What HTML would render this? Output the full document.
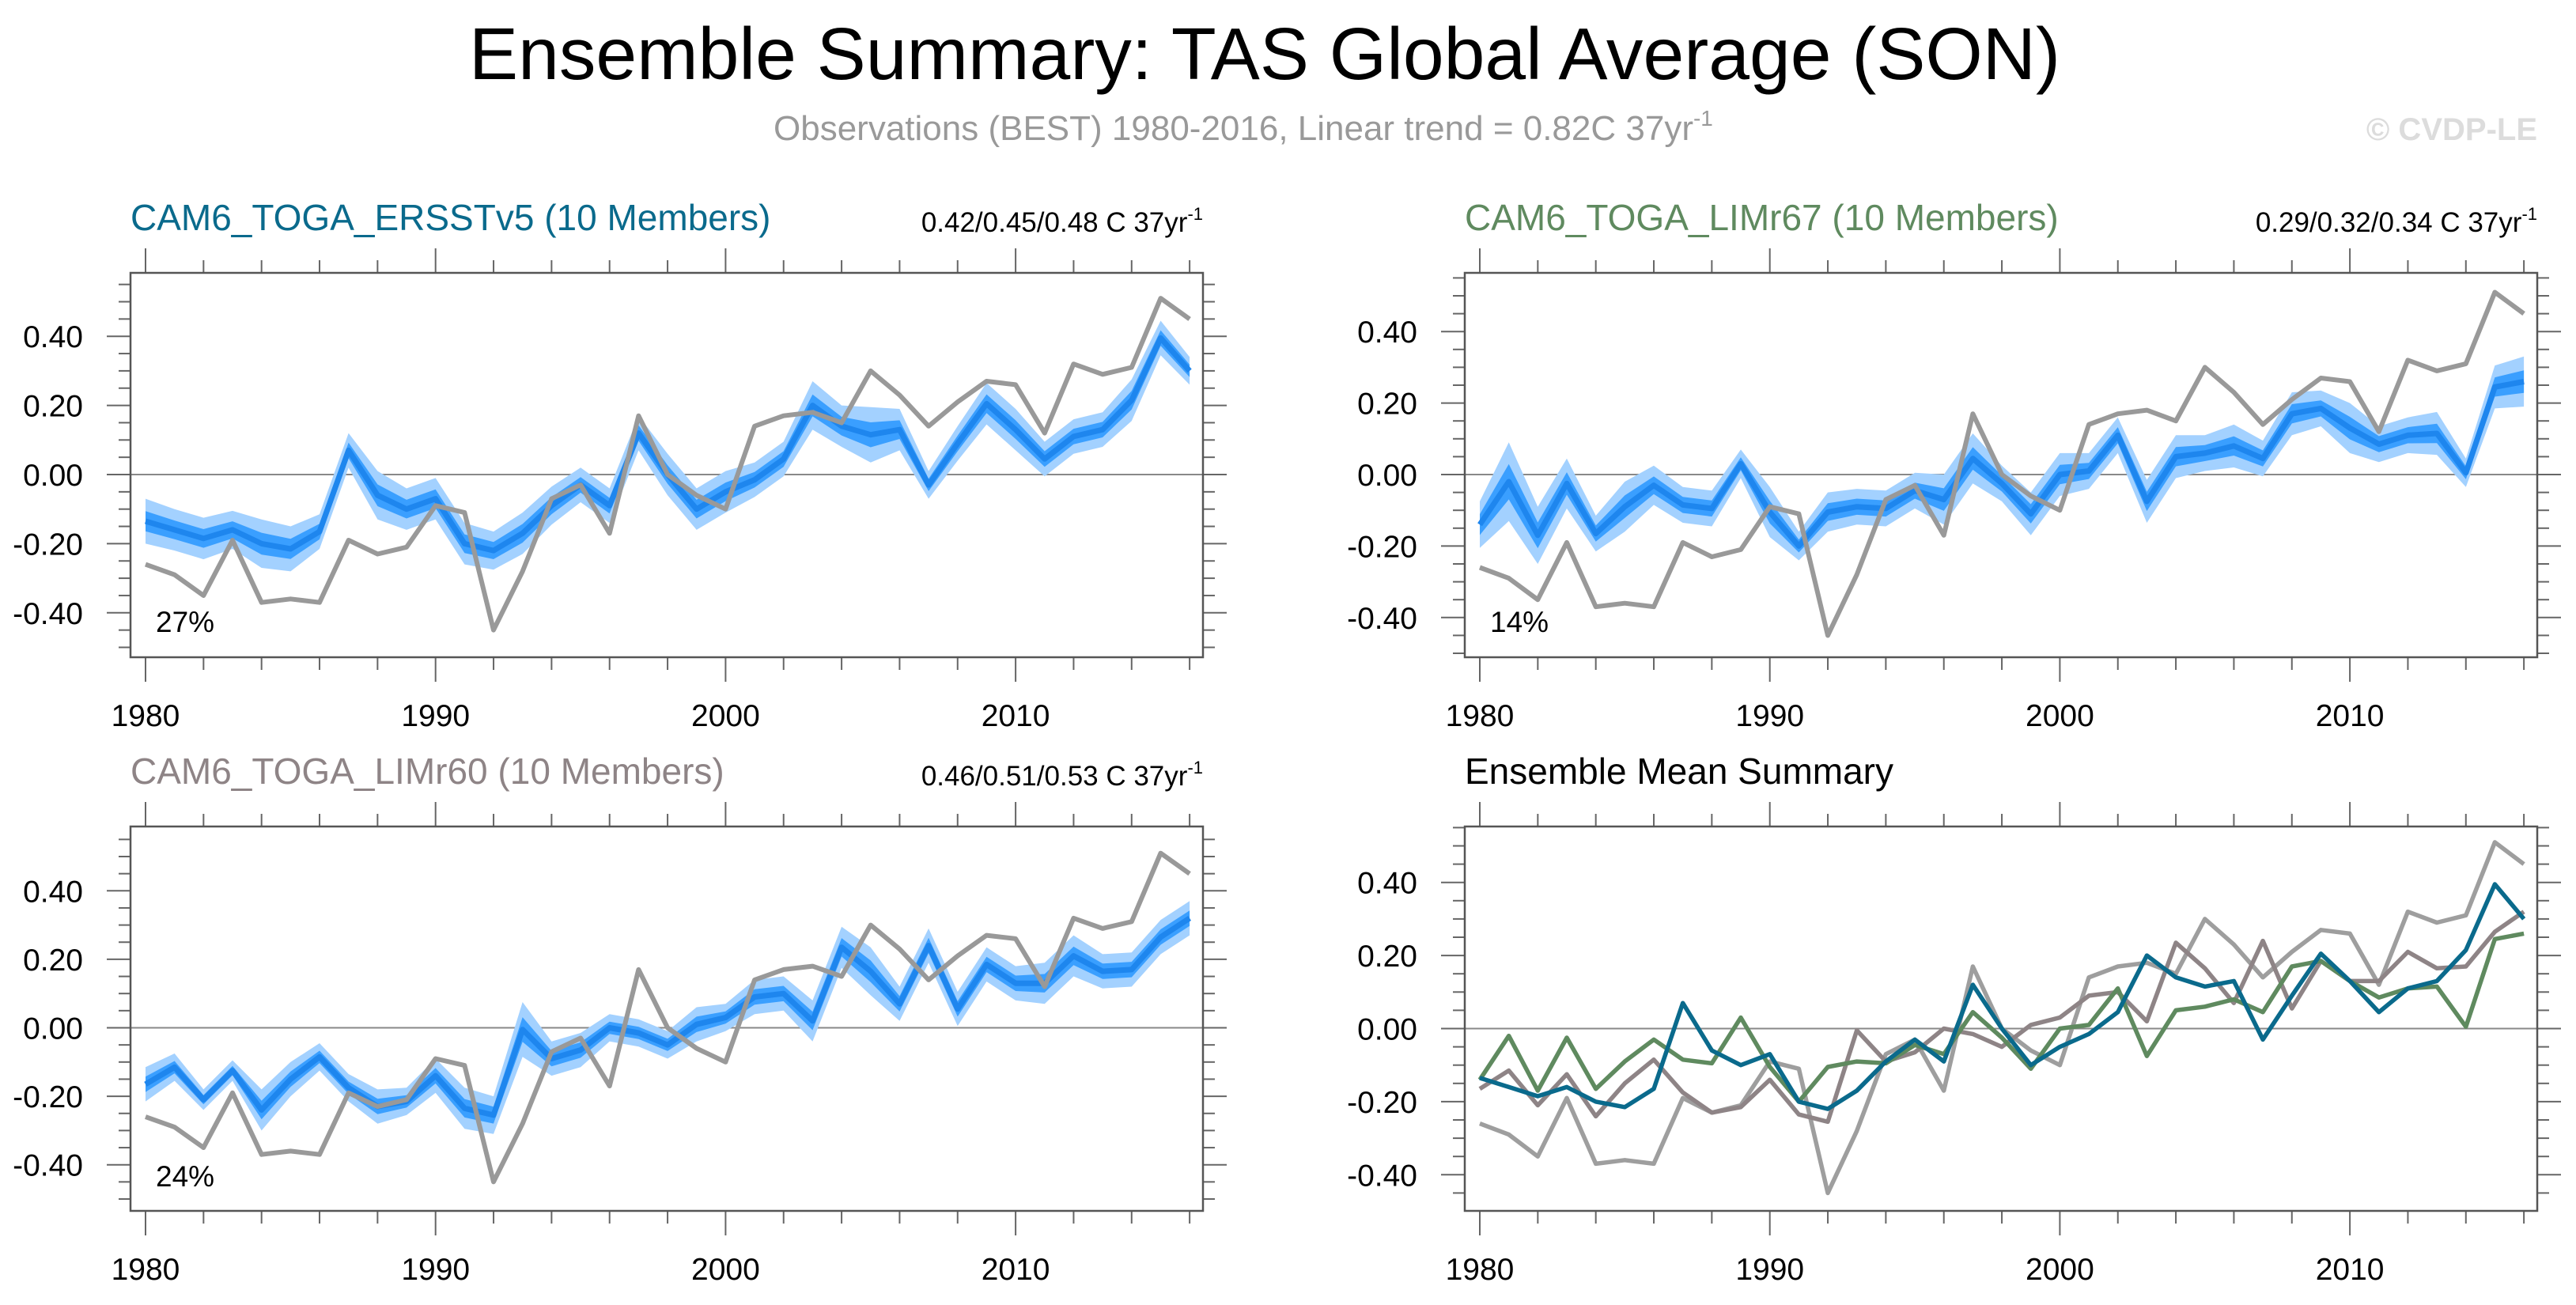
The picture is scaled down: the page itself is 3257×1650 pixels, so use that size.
<!DOCTYPE html>
<html><head><meta charset="utf-8">
<style>
html,body{margin:0;padding:0;background:#fff;}
svg{display:block;font-family:"Liberation Sans",Arial,sans-serif;}
</style></head>
<body>
<svg id="chart" width="3257" height="1650" viewBox="0 0 3257 1650" xmlns="http://www.w3.org/2000/svg">
  <text x="593" y="100" font-size="93" textLength="2012" lengthAdjust="spacingAndGlyphs" fill="#000">Ensemble Summary: TAS Global Average (SON)</text>
  <text x="978" y="177" font-size="44" fill="#999">Observations (BEST) 1980-2016, Linear trend = 0.82C 37yr<tspan font-size="28" dy="-18">-1</tspan></text>
  <text x="3208" y="177" font-size="40" font-weight="bold" fill="#dcdcdc" text-anchor="end">© CVDP-LE</text>
  <g id="panels"></g>
</svg>
<script>
const years = [];
for (let y = 1980; y <= 2016; y++) years.push(y);
const obsBEST = [-0.26,-0.29,-0.35,-0.19,-0.37,-0.36,-0.37,-0.19,-0.23,-0.21,-0.09,-0.11,-0.45,-0.28,-0.07,-0.03,-0.17,0.17,0.00,-0.06,-0.10,0.14,0.17,0.18,0.15,0.30,0.23,0.14,0.21,0.27,0.26,0.12,0.32,0.29,0.31,0.51,0.45];
const meanERSST = [-0.135,-0.16,-0.185,-0.16,-0.20,-0.215,-0.165,0.07,-0.06,-0.10,-0.07,-0.20,-0.22,-0.17,-0.09,-0.03,-0.09,0.12,0.00,-0.10,-0.05,-0.015,0.045,0.20,0.14,0.115,0.13,-0.03,0.09,0.205,0.13,0.045,0.11,0.13,0.215,0.395,0.30];
const meanLIMr67 = [-0.14,-0.02,-0.17,-0.025,-0.165,-0.09,-0.03,-0.085,-0.095,0.03,-0.105,-0.20,-0.105,-0.09,-0.095,-0.045,-0.07,0.045,-0.025,-0.11,0.00,0.01,0.11,-0.075,0.05,0.06,0.08,0.045,0.17,0.185,0.13,0.085,0.11,0.115,0.005,0.245,0.26];
const meanLIMr60 = [-0.165,-0.115,-0.21,-0.125,-0.24,-0.15,-0.085,-0.175,-0.23,-0.215,-0.14,-0.235,-0.255,-0.005,-0.09,-0.065,0.00,-0.015,-0.05,0.01,0.03,0.09,0.10,0.02,0.235,0.165,0.07,0.24,0.055,0.185,0.13,0.13,0.21,0.165,0.17,0.265,0.32];
const spreadERSST = [0.065,0.06,0.06,0.055,0.07,0.065,0.05,0.05,0.07,0.06,0.06,0.06,0.055,0.06,0.055,0.05,0.05,0.05,0.06,0.06,0.06,0.05,0.05,0.07,0.06,0.08,0.06,0.04,0.05,0.06,0.06,0.05,0.05,0.05,0.06,0.05,0.04];
const spreadLIMr67 = [0.065,0.11,0.08,0.07,0.05,0.07,0.055,0.05,0.05,0.04,0.07,0.04,0.055,0.05,0.05,0.05,0.07,0.07,0.05,0.06,0.06,0.05,0.05,0.06,0.06,0.05,0.06,0.05,0.06,0.05,0.07,0.05,0.05,0.06,0.04,0.06,0.07];
const spreadLIMr60 = [0.05,0.04,0.03,0.03,0.06,0.05,0.04,0.04,0.05,0.04,0.05,0.06,0.055,0.08,0.05,0.05,0.04,0.04,0.04,0.05,0.04,0.05,0.05,0.06,0.06,0.07,0.05,0.05,0.05,0.05,0.05,0.06,0.06,0.05,0.05,0.05,0.05];
const yTickValues = [-0.40,-0.20,0.00,0.20,0.40];
const yTickLabels = ["-0.40","-0.20","0.00","0.20","0.40"];
const xTickYears = [1980,1990,2000,2010];
const statsERSST = "0.42/0.45/0.48 C 37yr";
const statsLIMr67 = "0.29/0.32/0.34 C 37yr";
const statsLIMr60 = "0.46/0.51/0.53 C 37yr";
const pctERSST = "27%", pctLIMr67 = "14%", pctLIMr60 = "24%";

const NS = "http://www.w3.org/2000/svg";
const root = document.getElementById('panels');
function mk(tag, attrs, parent){ const e=document.createElementNS(NS,tag); for(const k in attrs) e.setAttribute(k,attrs[k]); (parent||root).appendChild(e); return e; }

function panel(cfg){
  const g = mk('g',{});
  
  
  const L=cfg.x0, R=cfg.x1, T=cfg.y0, B=cfg.y1;
  const xS = yr => L + 19 + (yr-1980)*36.67;
  const yS = v => cfg.zero - v*cfg.scale;
  const vmax = (cfg.zero - T)/cfg.scale, vmin = (cfg.zero - B)/cfg.scale;
  const t = mk('text',{x:L,y:T-54,'font-size':46,fill:cfg.titleColor},g);
  t.textContent = cfg.title;
  
  
  if (cfg.stats){
    const s = mk('text',{x:R,y:T-52,'font-size':35,fill:'#000','text-anchor':'end'},g);
    s.textContent = cfg.stats;
    const sup = mk('tspan',{'font-size':22,dy:-15},s); sup.textContent='-1';
    
    
  }
  for (let yr=1980; yr<=2016; yr+=2){
    const major = (yr%10===0);
    const len = major?31:16;
    const x = xS(yr);
    mk('line',{x1:x,x2:x,y1:T,y2:T-len,stroke:'#666','stroke-width':2},g);
    mk('line',{x1:x,x2:x,y1:B,y2:B+len,stroke:'#666','stroke-width':2},g);
  }
  xTickYears.forEach(yr=>{
    const tx = mk('text',{x:xS(yr),y:B+87,'font-size':39,'text-anchor':'middle',fill:'#000'},g);
    tx.textContent = yr;
    
    
  });
  for (let k=Math.ceil(vmin/0.05-1e-6); k*0.05<=vmax+1e-6; k++){
    const v = k*0.05, y = yS(v);
    const major = (k%4===0);
    const len = major?30:15;
    mk('line',{x1:L,x2:L-len,y1:y,y2:y,stroke:'#666','stroke-width':2},g);
    mk('line',{x1:R,x2:R+len,y1:y,y2:y,stroke:'#666','stroke-width':2},g);
  }
  yTickValues.forEach((v,i)=>{
    const ty = mk('text',{x:L-60,y:yS(v)+14,'font-size':39,'text-anchor':'end',fill:'#000'},g);
    ty.textContent = yTickLabels[i];
    
    
  });
  const cid = 'clip-'+cfg.name;
  const cp = mk('clipPath',{id:cid},g); mk('rect',{x:L,y:T,width:R-L,height:B-T},cp);
  const pg = mk('g',{'clip-path':'url(#'+cid+')'},g);
  mk('line',{x1:L,x2:R,y1:yS(0),y2:yS(0),stroke:'#888','stroke-width':2},pg);
  const linePts = arr => arr.map((v,i)=>xS(years[i]).toFixed(1)+','+yS(v).toFixed(1)).join(' ');
  const bandPts = (m,s,f) => { const up=m.map((v,i)=>xS(years[i]).toFixed(1)+','+yS(v+s[i]*f).toFixed(1)); const lo=m.map((v,i)=>xS(years[i]).toFixed(1)+','+yS(v-s[i]*f).toFixed(1)).reverse(); return up.concat(lo).join(' '); };
  if (cfg.mean){
    const b1 = mk('polygon',{points:bandPts(cfg.mean,cfg.spread,1),fill:'#a3d1ff'},pg);
    
    
    const b2 = mk('polygon',{points:bandPts(cfg.mean,cfg.spread,0.45),fill:'#3a9fff'},pg);
    
    
    const ml = mk('polyline',{points:linePts(cfg.mean),fill:'none',stroke:'#1e86ee','stroke-width':7,'stroke-linejoin':'round'},pg);
    
    
    const ol = mk('polyline',{points:linePts(obsBEST),fill:'none',stroke:'#999','stroke-width':6,'stroke-linejoin':'round'},pg);
    
    
  } else {
    cfg.lines.forEach(ln=>{
      const p = mk('polyline',{points:linePts(ln.data),fill:'none',stroke:ln.color,'stroke-width':5.5,'stroke-linejoin':'round'},pg);
      
      
    });
  }
  const box = mk('rect',{x:L,y:T,width:R-L,height:B-T,fill:'none',stroke:'#555','stroke-width':2.5},g);
  
  
  if (cfg.pct){
    const pt = mk('text',{x:L+32,y:cfg.pctY,'font-size':37,fill:'#000'},g);
    pt.textContent = cfg.pct;
    
    
  }
}

panel({name:'panel-ersstv5',x0:165,x1:1521,y0:345,y1:831,zero:600,scale:437,title:'CAM6_TOGA_ERSSTv5 (10 Members)',titleColor:'#0a6a8c',stats:statsERSST,mean:meanERSST,spread:spreadERSST,pct:pctERSST,pctY:799});
panel({name:'panel-limr67',x0:1852,x1:3208,y0:345,y1:831,zero:600,scale:452,title:'CAM6_TOGA_LIMr67 (10 Members)',titleColor:'#5f8a5f',stats:statsLIMr67,mean:meanLIMr67,spread:spreadLIMr67,pct:pctLIMr67,pctY:799});
panel({name:'panel-limr60',x0:165,x1:1521,y0:1045,y1:1531,zero:1299.5,scale:433,title:'CAM6_TOGA_LIMr60 (10 Members)',titleColor:'#8e8486',stats:statsLIMr60,mean:meanLIMr60,spread:spreadLIMr60,pct:pctLIMr60,pctY:1500});
panel({name:'panel-ensemble-mean-summary',x0:1852,x1:3208,y0:1045,y1:1531,zero:1300.5,scale:462,title:'Ensemble Mean Summary',titleColor:'#000',
  lines:[{name:'observations-line',data:obsBEST,color:'#9e9e9e'},{name:'limr60-mean-line',data:meanLIMr60,color:'#8e8486'},{name:'limr67-mean-line',data:meanLIMr67,color:'#5f8a5f'},{name:'ersstv5-mean-line',data:meanERSST,color:'#0a6a8c'}]});
</script>
</body></html>
